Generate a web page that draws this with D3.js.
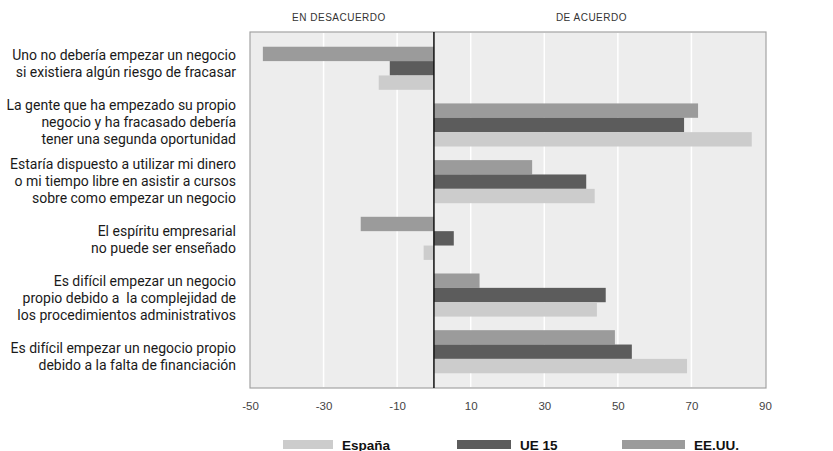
<!DOCTYPE html>
<html><head><meta charset="utf-8">
<script src="https://cdn.jsdelivr.net/npm/d3@7"></script>
<style>
html,body{margin:0;padding:0;background:#fff;}
svg{display:block;}
</style></head>
<body>
<svg id="chart" width="833" height="451"></svg>
<script>
const categories = [
  ["Uno no debería empezar un negocio", "si existiera algún riesgo de fracasar"],
  ["La gente que ha empezado su propio", "negocio y ha fracasado debería", "tener una segunda oportunidad"],
  ["Estaría dispuesto a utilizar mi dinero", "o mi tiempo libre en asistir a cursos", "sobre como empezar un negocio"],
  ["El espíritu empresarial", "no puede ser enseñado"],
  ["Es difícil empezar un negocio", "propio debido a  la complejidad de", "los procedimientos administrativos"],
  ["Es difícil empezar un negocio propio", "debido a la falta de financiación"]
];
const seriesNames = ["EE.UU.", "UE 15", "España"];
const valuesEEUU  = [-46.5, 71.8, 26.7, -19.9, 12.4, 49.2];
const valuesUE15  = [-12, 68, 41.4, 5.4, 46.7, 53.8];
const valuesEspana = [-15, 86.4, 43.7, -2.8, 44.3, 68.8];
const tickValues = [-50, -30, -10, 10, 30, 50, 70, 90];
const gridValues = [-30, -10, 10, 30, 50, 70];
const headerLabels = ["EN DESACUERDO", "DE ACUERDO"];
const legendOrder = ["España", "UE 15", "EE.UU."];

const colors = {"EE.UU.": "#9b9b9b", "UE 15": "#5c5c5c", "España": "#cccccc"};
const seriesValues = {"EE.UU.": valuesEEUU, "UE 15": valuesUE15, "España": valuesEspana};

const svg = d3.select("#chart");
const pL = 250, pR = 765, pT = 32, pB = 388;

const x = d3.scaleLinear().domain([-50, 90]).range([pL, pR]);
const y = d3.scaleBand().domain(d3.range(categories.length)).range([pT, pB]).paddingInner(0.24).paddingOuter(0.26);
const yLabel = d3.scaleBand().domain(d3.range(categories.length)).range([pT - 6, pB + 6]).paddingInner(0.24).paddingOuter(0.26);
const ySub = d3.scaleBand().domain(seriesNames).range([0, y.bandwidth()]);

// background
svg.append("rect").attr("x", pL).attr("y", pT).attr("width", pR - pL + 1).attr("height", pB - pT)
  .attr("fill", "#ededed").attr("stroke", "#a3a3a3").attr("stroke-width", 1.2);

// grid
svg.append("g").selectAll("line").data(gridValues).join("line")
  .attr("x1", d => x(d)).attr("x2", d => x(d)).attr("y1", pT + 1).attr("y2", pB - 1)
  .attr("stroke", "#ffffff").attr("stroke-width", 1.5);

// bars
const groups = svg.append("g").selectAll("g").data(categories).join("g")
  .attr("transform", (d, i) => `translate(0,${y(i)})`);
groups.each(function(d, i) {
  d3.select(this).selectAll("rect").data(seriesNames).join("rect")
    .attr("x", s => x(Math.min(0, seriesValues[s][i])))
    .attr("width", s => Math.abs(x(seriesValues[s][i]) - x(0)))
    .attr("y", s => ySub(s))
    .attr("height", ySub.bandwidth())
    .attr("fill", s => colors[s]);
});

// zero line
svg.append("line").attr("x1", x(0)).attr("x2", x(0)).attr("y1", pT).attr("y2", pB)
  .attr("stroke", "#111").attr("stroke-width", 1.5);

// x axis
const xAxis = d3.axisBottom(x).tickValues(tickValues).tickSize(0).tickPadding(0).tickFormat(d => String(d));
const ax = svg.append("g").attr("transform", `translate(0,${pB + 14})`).call(xAxis);
ax.select(".domain").remove();
ax.selectAll("text").attr("font-family", "'Liberation Sans', Arial, sans-serif").attr("font-size", 11.5).attr("fill", "#444").attr("dy", "0.71em");

// header labels
svg.append("g").selectAll("text").data(headerLabels).join("text")
  .attr("x", (d, i) => i === 0 ? (x(-50) + x(0)) / 2 - 3 : (x(0) + x(90)) / 2 - 8)
  .attr("y", 21)
  .attr("text-anchor", "middle")
  .attr("font-family", "'Liberation Sans', Arial, sans-serif")
  .attr("font-size", 10).attr("letter-spacing", 0.5).attr("fill", "#333")
  .text(d => d);

// category labels
const lineH = 17;
const lab = svg.append("g").selectAll("text").data(categories).join("text")
  .attr("text-anchor", "end")
  .attr("font-family", "Roboto, 'Liberation Sans', Arial, sans-serif")
  .attr("font-size", 14).attr("fill", "#1a1a1a")
  .style("white-space", "pre")
  .attr("transform", (d, i) => `translate(236,${yLabel(i) + yLabel.bandwidth() / 2 - (d.length - 1) * lineH / 2 + 5})`);
lab.selectAll("tspan").data(d => d).join("tspan")
  .attr("x", 0).attr("y", (d, j) => j * lineH).style("white-space", "pre").text(d => d);

// legend
const legX = {"España": 283, "UE 15": 457, "EE.UU.": 622};
const legW = {"España": 50, "UE 15": 54, "EE.UU.": 63};
const leg = svg.append("g").selectAll("g").data(legendOrder).join("g");
leg.append("rect").attr("x", d => legX[d]).attr("y", 440).attr("width", d => legW[d]).attr("height", 9).attr("fill", d => colors[d]);
leg.append("text").attr("x", d => legX[d] + legW[d] + 9).attr("y", 449.5)
  .attr("font-family", "'Liberation Sans', Arial, sans-serif").attr("font-weight", "bold")
  .attr("font-size", 13.5).attr("fill", "#111").text(d => d);
</script>
</body></html>
